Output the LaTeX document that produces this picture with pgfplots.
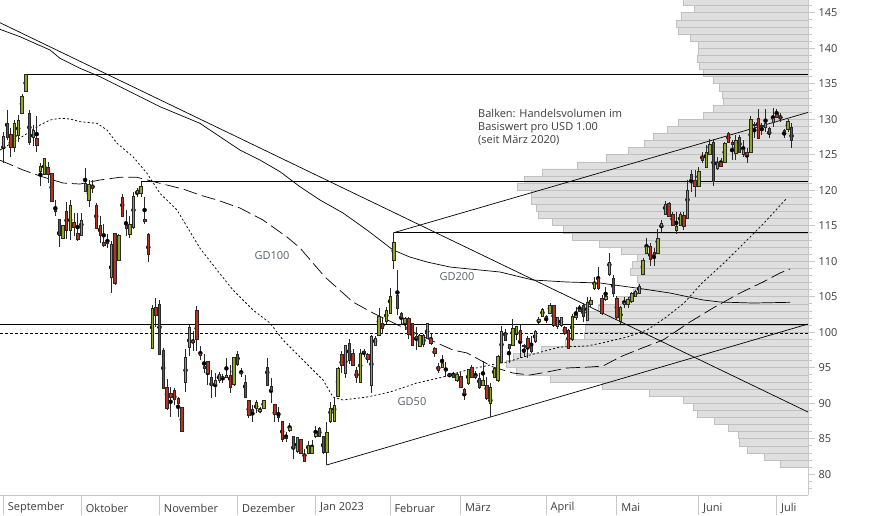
\documentclass[border=0pt]{standalone}
\usepackage{fontspec}
\setmainfont{Open Sans}
\usepackage{pgfplots}
\usepackage{pgfplotstable}
\pgfplotsset{compat=1.18}
\definecolor{upc}{RGB}{146,168,34}
\definecolor{dnc}{RGB}{188,48,30}
\definecolor{edgec}{RGB}{40,40,40}
\definecolor{volfill}{RGB}{223,223,223}
\definecolor{voledge}{RGB}{192,192,192}
\definecolor{axisgray}{RGB}{200,200,200}
\definecolor{labelc}{RGB}{60,60,60}
\definecolor{gdc}{RGB}{90,96,106}

\pgfdeclareplotmark{candle}{%
  \pgfmathsetmacro\hh{max(\bh,0.45)}%
  \pgfpathrectanglecorners{\pgfpoint{-1.2pt}{-\hh pt}}{\pgfpoint{1.2pt}{\hh pt}}%
  \pgfusepathqfillstroke}

\pgfplotstableread{
d O H L C cls
-1 127.2 129.6 126.8 129.2 u
0 126.0 128.2 123.9 127.6 u
1 129.4 131.3 127.1 127.5 d
2 127.9 128.7 124.7 126.1 d
3 126.1 129.9 125.4 129.4 u
4 127.8 130.6 126.8 129.8 u
5 130.9 133.6 130.7 133.3 u
6 134.0 136.3 133.9 136.3 u
7 130.9 131.3 126.4 126.8 d
8 127.5 129.2 126.2 128.5 u
9 127.3 130.4 125.4 126.4 d
10 122.7 123.8 120.6 123.4 u
11 122.2 124.6 122.1 124.5 u
12 123.2 124.0 121.0 122.2 d
13 122.4 122.4 118.4 118.5 d
14 117.2 118.6 116.3 117.0 d
15 115.9 115.9 112.0 113.7 d
16 113.3 115.1 113.2 115.1 u
17 117.0 118.4 113.1 114.4 d
18 114.3 118.6 113.0 117.9 u
19 115.5 116.8 113.5 114.8 d
20 113.9 116.8 112.8 113.1 d
21 113.7 116.8 113.5 115.7 u
22 119.9 123.1 119.8 121.0 u
23 118.6 121.4 117.7 120.9 u
24 120.7 121.4 119.6 120.3 d
25 117.9 118.2 114.5 114.6 d
26 115.1 116.3 112.5 113.7 d
27 112.7 115.3 112.0 112.2 d
28 112.7 113.9 111.8 112.5 d
29 107.8 112.8 105.5 112.4 u
30 113.9 113.9 106.6 106.9 d
31 110.2 113.9 110.0 113.7 u
32 119.0 119.5 116.3 116.4 d
33 115.0 117.2 113.5 114.7 d
34 113.8 116.3 113.2 115.2 u
35 114.8 119.8 114.6 119.2 u
36 119.6 120.3 119.0 120.0 u
37 119.6 121.2 119.1 120.6 u
38 115.9 119.1 115.3 115.6 d
39 113.8 114.0 109.9 111.0 d
40 97.7 103.8 97.6 103.4 u
41 103.5 104.8 100.8 102.4 d
42 103.9 104.5 96.9 96.9 d
43 97.4 97.8 92.1 92.1 d
44 92.3 93.4 89.0 89.3 d
45 91.4 92.3 88.1 90.9 d
46 91.8 92.1 89.7 90.6 d
47 90.7 90.9 88.1 90.0 d
48 89.4 89.5 85.9 86.0 d
49 93.0 97.7 91.6 96.5 u
50 97.9 101.0 96.7 100.7 u
51 98.8 100.1 97.3 98.6 d
52 103.1 103.7 97.4 99.0 d
53 97.0 98.0 96.1 96.8 d
54 95.2 97.0 94.2 94.9 d
55 95.9 95.9 92.6 94.2 d
56 93.7 94.7 90.7 92.6 d
57 92.7 94.2 90.9 93.2 u
58 93.3 94.4 92.9 94.1 u
59 93.6 94.1 92.9 93.7 u
60 93.7 96.3 93.5 93.9 u
61 94.0 95.4 91.5 92.3 d
62 92.6 96.5 92.4 96.5 u
63 96.9 97.3 95.3 95.5 d
64 94.4 95.0 93.7 94.2 d
65 92.9 94.0 90.7 90.9 d
66 90.4 90.4 87.9 88.3 d
67 89.1 89.7 87.4 88.9 d
68 89.3 90.5 88.6 90.2 u
69 88.9 89.4 88.6 89.1 u
70 89.3 90.5 89.2 90.4 u
71 95.1 96.3 92.4 92.6 d
72 92.4 93.5 90.0 91.8 d
73 89.9 89.9 87.4 88.5 d
74 88.2 89.5 87.4 88.0 d
75 87.4 87.4 84.6 84.9 d
76 85.2 86.0 84.6 85.0 d
77 86.2 87.2 86.0 86.6 u
78 85.3 85.3 82.2 83.6 d
79 83.2 85.3 83.0 85.2 u
80 84.9 84.9 83.0 83.0 d
81 82.8 83.6 81.7 81.8 d
82 83.0 84.7 82.9 84.1 u
83 83.0 84.8 82.9 84.0 u
84 85.4 86.8 85.1 85.8 u
85 86.5 86.6 85.2 85.3 d
86 85.3 85.3 82.9 83.1 d
87 83.1 87.4 81.3 85.9 u
88 87.4 90.2 87.2 89.3 u
89 87.5 90.9 87.4 89.7 u
90 91.0 95.1 90.9 94.9 u
91 96.9 97.3 94.2 95.4 d
92 94.2 98.2 93.5 98.1 u
93 98.5 99.1 95.5 96.1 d
94 97.1 97.6 95.2 95.4 d
95 94.7 95.1 92.9 93.7 d
96 93.0 97.7 92.9 97.1 u
97 97.3 97.7 96.5 97.2 d
98 96.9 97.1 95.6 96.2 d
99 92.6 99.6 91.4 99.4 u
100 98.2 99.5 98.0 99.1 u
101 99.6 103.4 99.6 102.2 u
102 101.2 102.2 99.8 100.5 d
103 101.5 103.5 101.2 103.1 u
104 102.7 106.2 102.5 105.0 u
105 110.2 114.0 108.9 112.7 u
106 105.2 108.8 102.4 103.4 d
107 102.6 102.9 101.2 102.1 d
108 101.2 102.2 100.3 101.9 u
109 101.9 102.2 99.1 99.7 d
110 101.2 101.2 98.2 98.2 d
111 99.4 100.7 97.5 99.2 d
112 98.0 99.7 97.9 99.6 u
113 98.3 99.8 97.9 99.6 u
114 99.1 101.2 99.0 101.2 u
115 99.1 99.8 98.2 98.4 d
116 97.7 97.9 96.5 97.1 d
117 95.2 95.6 94.3 94.7 d
118 95.1 96.8 95.1 95.6 u
119 94.6 95.8 93.7 94.7 u
120 94.1 94.2 93.7 93.9 d
121 94.1 94.4 93.6 93.7 d
122 93.2 94.4 93.0 94.1 u
123 93.8 94.4 92.1 92.2 d
124 92.0 92.1 90.4 91.4 d
125 92.8 94.8 92.6 94.8 u
126 95.1 95.4 93.5 93.7 d
127 94.0 94.5 93.4 93.6 d
128 93.5 94.2 92.0 92.3 d
129 92.6 96.0 92.4 93.2 u
130 92.6 93.7 90.4 90.7 d
131 90.0 92.8 88.0 92.3 u
132 93.7 95.1 93.7 94.9 u
133 93.3 96.8 93.0 96.6 u
134 95.7 100.9 95.6 100.1 u
135 99.8 100.5 98.9 98.9 d
136 98.3 98.4 95.7 97.7 d
137 98.1 101.9 98.0 100.5 u
138 99.8 100.9 98.9 100.8 u
139 100.3 101.0 96.3 98.7 d
140 98.1 98.3 96.5 98.0 d
141 99.1 99.4 96.3 97.9 d
142 98.0 99.4 97.1 97.3 d
143 98.7 100.3 98.5 100.2 u
144 101.5 102.2 101.0 101.8 u
145 102.2 103.4 102.1 103.2 u
146 102.3 102.4 101.3 102.1 d
147 102.7 104.1 102.6 103.8 u
148 103.8 103.8 100.8 101.0 d
149 100.9 102.2 100.5 102.1 u
150 101.0 102.2 100.8 102.1 u
151 100.7 100.9 99.6 99.8 d
152 100.3 100.5 97.7 97.7 d
153 99.0 102.6 98.8 102.3 u
154 102.1 103.6 101.7 102.4 u
155 103.2 103.8 102.9 102.9 d
156 103.8 104.1 101.5 102.2 d
157 101.7 104.9 101.6 104.2 u
158 104.0 104.9 103.6 104.5 u
159 106.2 107.8 105.9 107.0 u
160 107.6 109.2 106.0 106.2 d
161 104.8 105.2 102.4 102.7 d
162 104.7 106.4 104.4 105.0 u
163 108.1 111.1 107.9 109.8 u
164 107.6 108.1 105.0 105.5 d
165 104.8 105.1 101.9 102.1 d
166 101.5 103.7 101.2 103.5 u
167 104.0 105.0 103.4 104.2 u
168 104.0 105.0 103.4 104.6 u
169 104.3 105.7 104.1 105.5 u
170 105.0 106.0 104.9 105.8 u
171 105.5 106.8 105.4 106.5 u
172 108.1 110.4 108.0 110.2 u
173 111.1 113.2 111.0 112.1 u
174 112.1 112.5 109.3 110.3 d
175 111.2 111.9 109.3 111.0 d
176 111.1 114.5 111.0 113.2 u
177 114.9 115.8 114.1 115.3 u
178 116.6 118.5 116.5 118.0 u
179 118.1 118.4 116.3 116.4 d
180 116.6 117.0 114.9 115.1 d
181 114.3 117.0 113.8 114.9 u
182 115.1 117.0 115.0 116.6 u
183 116.5 117.0 114.4 114.9 d
184 116.0 121.4 115.9 120.0 u
185 122.2 122.8 119.8 121.5 d
186 121.4 122.8 119.1 120.5 d
187 120.6 123.3 120.5 122.7 u
188 124.8 125.4 123.8 124.2 d
189 123.3 126.4 123.2 125.3 u
190 125.1 127.2 124.9 126.5 u
191 126.8 127.2 120.6 121.2 d
192 123.1 124.7 122.8 124.0 u
193 124.0 124.6 123.2 123.4 d
194 124.0 126.8 123.9 126.6 u
195 128.0 128.2 126.6 126.7 d
196 126.7 127.1 124.2 126.5 d
197 125.2 127.8 124.2 127.1 u
198 127.5 127.8 125.2 125.4 d
199 125.0 127.1 124.7 125.7 u
200 125.4 125.9 123.9 124.9 d
201 125.3 130.4 125.2 130.0 u
202 129.3 129.6 127.3 129.1 d
203 130.1 131.4 127.2 127.3 d
204 129.0 129.4 127.8 129.1 u
205 128.9 131.4 128.2 129.4 u
206 128.7 128.9 127.3 128.0 d
207 129.6 131.6 128.9 130.1 u
208 130.7 131.5 130.2 130.3 d
209 130.4 130.9 129.6 130.2 d
210 128.5 128.6 127.4 128.3 d
211 128.6 130.1 128.2 129.7 u
212 128.9 129.4 125.9 127.1 d
}\candles

\pgfplotstableread{
p vol
81 28
82 44
83 61
84 69
85 70
86 80
87 94
88 111
89 115
90 125
91 159
92 206
93 258
94 292
95 302
96 295
97 267
98 243
99 224
100 223
101 222
102 221
103 210
104 191
105 175
106 170
107 171
108 178
109 176
110 171
111 187
112 209
113 236
114 245
115 256
116 270
117 272
118 277
119 277
120 291
121 284
122 266
123 231
124 202
125 180
126 164
127 155
128 141
129 130
130 105
131 95
132 85
133 86
134 89
135 95
136 105
137 109
138 111
139 110
140 110
141 118
142 130
143 132
144 127
145 114
146 125
}\volprof

\begin{document}
\begin{tikzpicture}
\useasboundingbox (0,0) rectangle (874pt,-515pt);
% volume profile (drawn behind)
\begin{axis}[at={(0,0)}, anchor=north west, scale only axis,
  width=808pt, height=495pt,
  xmin=0, xmax=808, ymin=77.07, ymax=146.79, x dir=reverse,
  hide axis, xbar, bar width=1]
\addplot[fill=volfill, draw=voledge, line width=0.6pt] table[x=vol, y expr=\thisrow{p}+0.5] {\volprof};
\end{axis}
% main chart
\begin{axis}[at={(0,0)}, anchor=north west, scale only axis,
  width=808pt, height=495pt,
  xmin=-0.888, xmax=216.43, ymin=77.07, ymax=146.79,
  axis x line*=bottom, axis y line*=right,
  axis line style={draw=axisgray, line width=0.8pt},
  tick align=outside,
  major tick length=7pt, minor tick length=4pt,
  tick style={draw=axisgray, line width=0.8pt},
  ytick={80,85,...,145}, minor ytick={78,79,...,146},
  /pgf/number format/assume math mode=true,
  yticklabel style={font=\fontsize{11}{13}\selectfont, text=labelc},
  xtick={0,21,42,63,84,104,123,146,165,187,208},
  xticklabels={September,Oktober,November,Dezember,Jan 2023,Februar,März,April,Mai,Juni,Juli},
  xtick style={/pgfplots/major tick length=20pt},
  xticklabel style={font=\fontsize{11}{13}\selectfont, text=labelc, anchor=west, xshift=1pt, yshift=-6pt},
  ]
% horizontal lines
\addplot[black, line width=0.8pt] coordinates {(6,136.3) (216.43,136.3)};
\addplot[black, line width=0.8pt] coordinates {(37,121.2) (216.43,121.2)};
\addplot[black, line width=0.8pt] coordinates {(105,114.0) (216.43,114.0)};
\addplot[black, line width=0.8pt] coordinates {(-0.888,101.15) (216.43,101.15)};
\addplot[black, line width=0.8pt, dash pattern=on 3pt off 2pt] coordinates {(-0.888,99.85) (216.43,99.85)};
% trend lines
\addplot[black, line width=0.7pt] coordinates {(-0.888,143.59) (216.43,88.76)};
\addplot[black, line width=0.7pt] coordinates {(104.9,114.0) (216.43,130.96)};
\addplot[black, line width=0.7pt] coordinates {(86.98,81.3) (216.43,101.15)};
% GD200
\addplot[black, line width=0.7pt] coordinates {(-0.89,142.66) (4.49,141.62) (12.56,139.75) (15.25,138.58) (20.63,137.17) (26.01,135.99) (31.39,134.58) (36.77,133.17) (42.15,131.76) (47.53,130.59) (52.9,129.42) (58.28,127.54) (63.66,125.66) (69.04,124.25) (74.42,122.61) (79.8,120.49) (85.18,118.62) (91.37,116.79) (97.82,114.39) (101.32,112.99) (104.81,111.58) (109.39,110.58) (113.96,109.89) (120.14,109.18) (133.59,108.48) (142.47,107.35) (151.61,107.07) (160.49,106.93) (170.9,106.18) (179.3,105.52) (188.2,104.54) (192.8,104.25) (201.6,104.11) (211.6,104.21)};
% GD100
\addplot[black, line width=0.7pt, dash pattern=on 14pt off 5pt] coordinates {(-0.89,124.23) (5.30,122.85) (10.68,121.86) (16.06,121.01) (20.63,120.87) (26.01,121.44) (31.39,121.82) (35.96,121.82) (42.15,120.97) (48.33,120.17) (52.9,119.32) (57.48,118.62) (63.66,117.49) (69.85,115.80) (76.3,113.41) (79.8,111.86) (86.52,107.77) (94.06,104.25) (99.44,102.70) (106.7,100.87) (116.65,98.48) (120.95,97.49) (124.72,97.07) (128.21,96.08) (131.71,95.10) (137.09,94.25) (141.66,93.97) (146.23,94.39) (151.61,94.96) (157.8,95.10) (161.3,95.24) (165.87,96.51) (170.44,97.49) (177.43,98.90) (184.69,101.44) (190.88,103.41) (198.14,105.52) (204.33,107.07) (208.9,108.34) (211.6,108.90)};
% GD50
\addplot[black, line width=0.75pt, dash pattern=on 2pt off 2.2pt] coordinates {(-0.89,125.66) (3.68,127.07) (9.87,129.18) (12.56,129.89) (15.25,130.13) (17.94,130.03) (20.63,129.65) (25.2,129.42) (27.89,128.48) (30.58,126.61) (34.89,124.72) (38.65,122.38) (42.15,119.56) (46.72,117.21) (52.9,111.82) (57.48,108.76) (61.78,105.94) (67.16,103.13) (71.73,101.30) (75.23,98.90) (79.8,96.51) (82.49,95.10) (85.99,93.27) (88.68,90.87) (91.37,90.45) (97.82,90.87) (104.0,91.58) (111.27,92.85) (118.26,93.69) (124.72,94.68) (130.9,95.38) (135.47,95.80) (141.66,96.79) (149.73,97.92) (157.0,98.06) (161.03,98.48) (167.75,99.32) (173.13,100.31) (177.97,102.0) (183.08,104.11) (187.92,106.93) (193.84,109.75) (199.22,112.56) (204.6,115.38) (210.78,118.9)};
% wicks
\addplot[black, only marks, mark=none,
  error bars/.cd, y dir=both, y explicit, error mark=none,
  error bar style={draw=edgec, line width=0.6pt}]
  table[x=d, y expr={(\thisrow{H}+\thisrow{L})/2}, y error expr={(\thisrow{H}-\thisrow{L})/2}] {\candles};
% bodies
\addplot[scatter, only marks, point meta=explicit symbolic,
  visualization depends on={abs(\thisrow{C}-\thisrow{O})*3.55 \as \bh},
  scatter/classes={u={mark=candle, fill=upc, draw=edgec, line width=0.5pt},
                   d={mark=candle, fill=dnc, draw=edgec, line width=0.5pt}}]
  table[x=d, y expr={(\thisrow{O}+\thisrow{C})/2}, meta=cls] {\candles};
% labels
\node[font=\fontsize{11}{13}\selectfont, text=gdc] at (axis cs:72.27,110.73) {GD100};
\node[font=\fontsize{11}{13}\selectfont, text=gdc] at (axis cs:122.03,107.77) {GD200};
\node[font=\fontsize{11}{13}\selectfont, text=gdc] at (axis cs:109.92,90.17) {GD50};
\node[anchor=north west, align=left, inner sep=0pt, font=\fontsize{11}{13}\selectfont, text=labelc] at (axis cs:127.68,131.4) {Balken: Handelsvolumen im\\Basiswert pro USD 1.00\\(seit März 2020)};
\end{axis}
\end{tikzpicture}
\end{document}
